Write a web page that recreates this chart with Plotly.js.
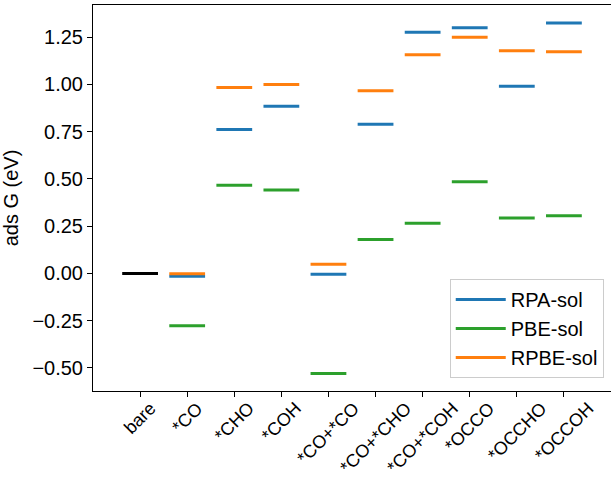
<!DOCTYPE html>
<html>
<head>
<meta charset="utf-8">
<script src="https://cdn.plot.ly/plotly-3.0.1.min.js"></script>
<style>html,body{margin:0;padding:0;background:#fff;}#chart{width:611px;height:477px;}</style>
</head>
<body>
<div id="chart"></div>
<script>
const categories = ['bare', '*CO', '*CHO', '*COH', '*CO+*CO', '*CO+*CHO', '*CO+*COH', '*OCCO', '*OCCHO', '*OCCOH'];
const bareValue = [0.0];
const rpaSol  = [null, -0.015, 0.762, 0.884, -0.004, 0.789, 1.276, 1.300, 0.990, 1.325];
const pbeSol  = [null, -0.277, 0.466, 0.441, -0.529, 0.180, 0.266, 0.485, 0.293, 0.305];
const rpbeSol = [null, -0.002, 0.983, 1.000, 0.049, 0.966, 1.157, 1.250, 1.178, 1.173];
const yTicks = [-0.5, -0.25, 0.0, 0.25, 0.5, 0.75, 1.0, 1.25];

const HALF = 0.38;
function segments(vals) {
  const xs = [], ys = [];
  vals.forEach((v, i) => {
    if (v === null) return;
    xs.push(i - HALF, i + HALF, null);
    ys.push(v, v, null);
  });
  return {x: xs, y: ys};
}

const FONT = 'Liberation Sans, Arial, sans-serif';
const FS = 20;
const traces = [];
const b = segments(bareValue);
traces.push({x: b.x, y: b.y, mode: 'lines', line: {color: '#000000', width: 3}, showlegend: false, hoverinfo: 'skip'});
[['RPA-sol', rpaSol, '#1f77b4'], ['PBE-sol', pbeSol, '#2ca02c'], ['RPBE-sol', rpbeSol, '#ff7f0e']].forEach(([name, vals, col]) => {
  const s = segments(vals);
  traces.push({x: s.x, y: s.y, mode: 'lines', name: name, legendgroup: name, line: {color: col, width: 3}});
});

const annotations = categories.map((c, i) => ({
  x: i, xref: 'x', y: 0, yref: 'paper', yshift: -6,
  text: c, showarrow: false, textangle: -45, borderpad: 0,
  xanchor: 'center', yanchor: 'top',
  font: {family: FONT, size: 18, color: '#000'}
}));

const layout = {
  width: 611, height: 477,
  margin: {l: 93, r: 0, t: 5, b: 86},
  paper_bgcolor: '#fff', plot_bgcolor: '#fff',
  font: {family: FONT, size: FS, color: '#000'},
  xaxis: {
    range: [-1, 10], tickvals: categories.map((c, i) => i), showticklabels: false,
    ticks: 'outside', ticklen: 5, tickcolor: '#000', tickwidth: 1,
    showgrid: false, zeroline: false, showline: true, linecolor: '#000', linewidth: 1, mirror: true
  },
  yaxis: {
    range: [-0.622, 1.420], tickvals: yTicks, tickformat: '.2f',
    ticks: 'outside', ticklen: 5, tickcolor: '#000', tickwidth: 1,
    tickfont: {family: FONT, size: FS, color: '#000'},
    showgrid: false, zeroline: false, showline: true, linecolor: '#000', linewidth: 1, mirror: true,
    automargin: false,
    title: {text: 'ads G (eV)', font: {family: FONT, size: FS, color: '#000'}, standoff: 8}
  },
  showlegend: true,
  legend: {
    x: 0.986, xanchor: 'right', y: 0.034, yanchor: 'bottom',
    bgcolor: 'rgba(255,255,255,0.8)', bordercolor: '#cccccc', borderwidth: 1,
    font: {family: FONT, size: FS, color: '#000'},
    traceorder: 'grouped', tracegroupgap: 0, itemwidth: 50
  },
  annotations: annotations
};

Plotly.newPlot('chart', traces, layout, {displayModeBar: false, staticPlot: true});
</script>
</body>
</html>
